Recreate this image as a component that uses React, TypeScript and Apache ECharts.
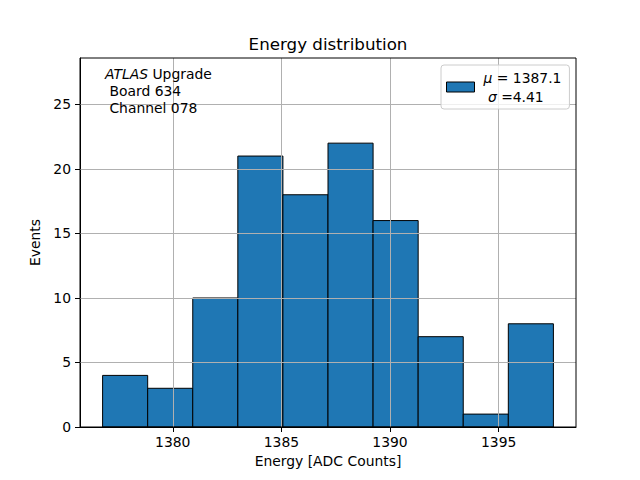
import React, { useEffect, useRef } from "react";
import * as echarts from "echarts";

const binEdges = [1376.77, 1378.845, 1380.92, 1382.995, 1385.07, 1387.145, 1389.22, 1391.295, 1393.37, 1395.445, 1397.52];
const counts = [4, 3, 10, 21, 18, 22, 16, 7, 1, 8];
const xTicks = [1380, 1385, 1390, 1395];
const yTicks = [0, 5, 10, 15, 20, 25];
const meanVal = "1387.1";
const sigmaVal = "4.41";
const titleText = "Energy distribution";
const xName = "Energy [ADC Counts]";
const yName = "Events";
const xRange = [1375.73, 1398.56];
const yRange = [0, 28.6];

const FONT = "DejaVu Sans";

export default function App() {
  const ref = useRef<HTMLDivElement>(null);
  useEffect(() => {
    if (!ref.current) return;
    const chart = echarts.init(ref.current, null, { renderer: "svg" });
    const data = counts.map((c, i) => [binEdges[i], binEdges[i + 1], c]);
    const gridLineData = [
      ...xTicks.map((v) => ({ xAxis: v })),
      ...yTicks.filter((v) => v !== 0).map((v) => ({ yAxis: v })),
    ];
    chart.setOption({
      animation: false,
      backgroundColor: "#ffffff",
      textStyle: { fontFamily: FONT },
      grid: {
        left: 80,
        right: 64,
        top: 58,
        bottom: 53,
        show: true,
        borderColor: "#000000",
        borderWidth: 1,
        backgroundColor: "transparent",
        z: 10,
      },
      graphic: [
        {
          type: "text",
          x: 328,
          y: 44,
          z: 20,
          style: {
            text: titleText,
            fontFamily: FONT,
            fontSize: 16.7,
            fill: "#000",
            textAlign: "center",
            textVerticalAlign: "middle",
          },
        },
        {
          type: "text",
          x: 105,
          y: 65,
          z: 20,
          style: {
            text: "{i|ATLAS} Upgrade\n Board 634\n Channel 078",
            fontFamily: FONT,
            fontSize: 13.9,
            lineHeight: 17,
            fill: "#000",
            rich: {
              i: { fontStyle: "italic", fontFamily: FONT, fontSize: 13.9, lineHeight: 17 },
            },
          },
        },
      ],
      legend: {
        left: 441,
        top: 65,
        orient: "vertical",
        padding: [3, 8, 3, 5],
        itemWidth: 28,
        itemHeight: 10,
        backgroundColor: "rgba(255,255,255,0.8)",
        borderColor: "#cccccc",
        borderWidth: 1,
        borderRadius: 3,
        z: 30,
        data: [
          {
            name: "hist",
            icon: "rect",
            itemStyle: { color: "#1f77b4", borderColor: "#000", borderWidth: 1 },
          },
        ],
        formatter: () => `{i|μ} = ${meanVal}\n {i|σ} =${sigmaVal}`,
        textStyle: {
          fontFamily: FONT,
          fontSize: 13.9,
          lineHeight: 19,
          color: "#000",
          padding: [0, 0, 0, 4],
          rich: {
            i: { fontStyle: "italic", fontFamily: FONT, fontSize: 13.9, lineHeight: 19 },
          },
        },
      },
      xAxis: {
        type: "value",
        min: xRange[0],
        max: xRange[1],
        name: xName,
        nameLocation: "middle",
        nameGap: 27,
        nameTextStyle: { fontFamily: FONT, fontSize: 13.9, color: "#000" },
        axisLine: { show: true, onZero: false, lineStyle: { color: "#000", width: 1 } },
        axisTick: { show: true, length: 5, customValues: xTicks, lineStyle: { color: "#000" } },
        axisLabel: {
          customValues: xTicks,
          formatter: (v: number) => String(v),
          fontFamily: FONT,
          fontSize: 13.9,
          color: "#000",
          margin: 8,
        },
        splitLine: { show: false },
      },
      yAxis: {
        type: "value",
        min: yRange[0],
        max: yRange[1],
        name: yName,
        nameLocation: "middle",
        nameGap: 30,
        nameTextStyle: { fontFamily: FONT, fontSize: 13.9, color: "#000" },
        axisLine: { show: true, lineStyle: { color: "#000", width: 1 } },
        axisTick: { show: true, length: 5, customValues: yTicks, lineStyle: { color: "#000" } },
        axisLabel: {
          customValues: yTicks,
          formatter: (v: number) => String(v),
          fontFamily: FONT,
          fontSize: 13.9,
          color: "#000",
          margin: 9,
        },
        splitLine: { show: false },
      },
      series: [
        {
          name: "hist",
          type: "custom",
          z: 2,
          encode: { x: [0, 1], y: 2 },
          data,
          renderItem: (params: any, api: any) => {
            const p0 = api.coord([api.value(0), api.value(2)]);
            const p1 = api.coord([api.value(1), 0]);
            return {
              type: "rect",
              shape: { x: p0[0], y: p0[1], width: p1[0] - p0[0], height: p1[1] - p0[1] },
              style: { fill: "#1f77b4", stroke: "#000000", lineWidth: 1 },
            };
          },
        },
        {
          name: "grid",
          type: "line",
          data: [],
          z: 5,
          silent: true,
          markLine: {
            silent: true,
            symbol: "none",
            animation: false,
            label: { show: false },
            lineStyle: { color: "#b0b0b0", width: 1, type: "solid" },
            emphasis: { disabled: true },
            data: gridLineData,
          },
        },
      ],
    });
    return () => chart.dispose();
  }, []);
  return <div ref={ref} style={{ width: 640, height: 480, position: "absolute", left: 0, top: 0 }} />;
}
